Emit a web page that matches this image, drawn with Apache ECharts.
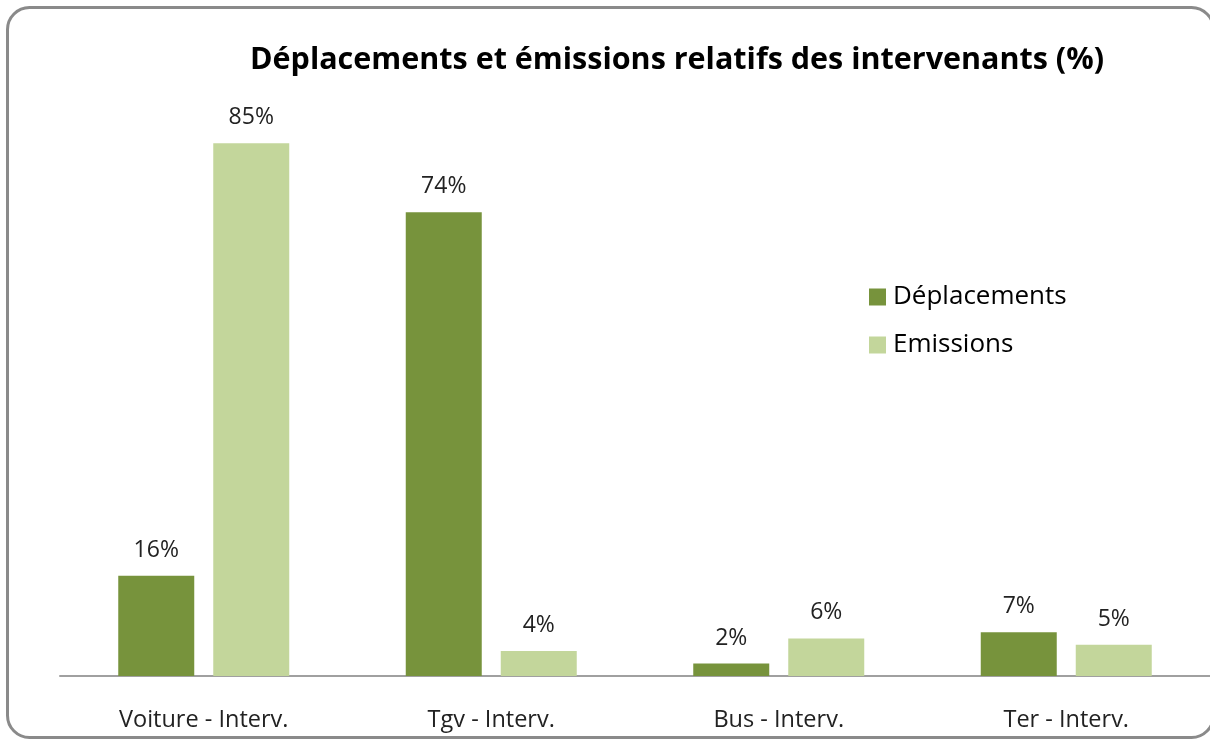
<!DOCTYPE html>
<html>
<head>
<meta charset="utf-8">
<script src="https://cdn.jsdelivr.net/npm/echarts@6/dist/echarts.min.js"></script>
<style>
  html, body { margin: 0; padding: 0; background: #fff; }
  #main { width: 1210px; height: 743px; }
</style>
</head>
<body>
<div id="main"></div>
<script>
// data
var categories = ['Voiture - Interv.', 'Tgv - Interv.', 'Bus - Interv.', 'Ter - Interv.'];
var deplacements = [16, 74, 2, 7];
var emissions = [85, 4, 6, 5];

var myChart = echarts.init(document.getElementById('main'));

var labelStyle = {
  show: true,
  position: 'top',
  distance: 14,
  color: '#222',
  fontSize: 23,
  fontFamily: 'Open Sans',
  formatter: function (p) { return p.value + '%'; }
};

var option = {
  animation: false,
  textStyle: { fontFamily: 'Open Sans' },
  title: {
    text: 'Déplacements et émissions relatifs des intervenants (%)',
    left: 672,
    textAlign: 'center',
    top: 40,
    textStyle: { fontSize: 30.5, fontWeight: 'bold', color: '#000', fontFamily: 'Open Sans' }
  },
  legend: {
    orient: 'vertical',
    left: 864,
    top: 279,
    itemWidth: 17,
    itemHeight: 17,
    itemGap: 22,
    icon: 'rect',
    textStyle: { fontSize: 26, color: '#000', fontFamily: 'Open Sans', padding: [0, 0, 0, 2] },
    data: ['Déplacements', 'Emissions']
  },
  grid: {
    left: 60,
    right: -2,
    top: 112,
    bottom: 67
  },
  xAxis: {
    type: 'category',
    data: categories,
    axisTick: { show: false },
    axisLine: { lineStyle: { color: '#a0a0a0', width: 2 } },
    axisLabel: { color: '#222', fontSize: 23.5, margin: 32, fontFamily: 'Open Sans' }
  },
  yAxis: {
    type: 'value',
    min: 0,
    max: 90,
    show: false,
    splitLine: { show: false }
  },
  graphic: [{
    type: 'rect',
    shape: { x: 7.5, y: 7.5, width: 1206, height: 730, r: 22 },
    style: { fill: 'none', stroke: '#8a8a8a', lineWidth: 3 },
    z: 100
  }],
  series: [{
    name: 'Déplacements',
    type: 'bar',
    data: deplacements,
    barWidth: 76,
    barGap: '25%',
    itemStyle: { color: '#77933C' },
    label: labelStyle
  }, {
    name: 'Emissions',
    type: 'bar',
    data: emissions,
    barWidth: 76,
    itemStyle: { color: '#C3D69B' },
    label: labelStyle
  }]
};

myChart.setOption(option);
</script>
</body>
</html>
